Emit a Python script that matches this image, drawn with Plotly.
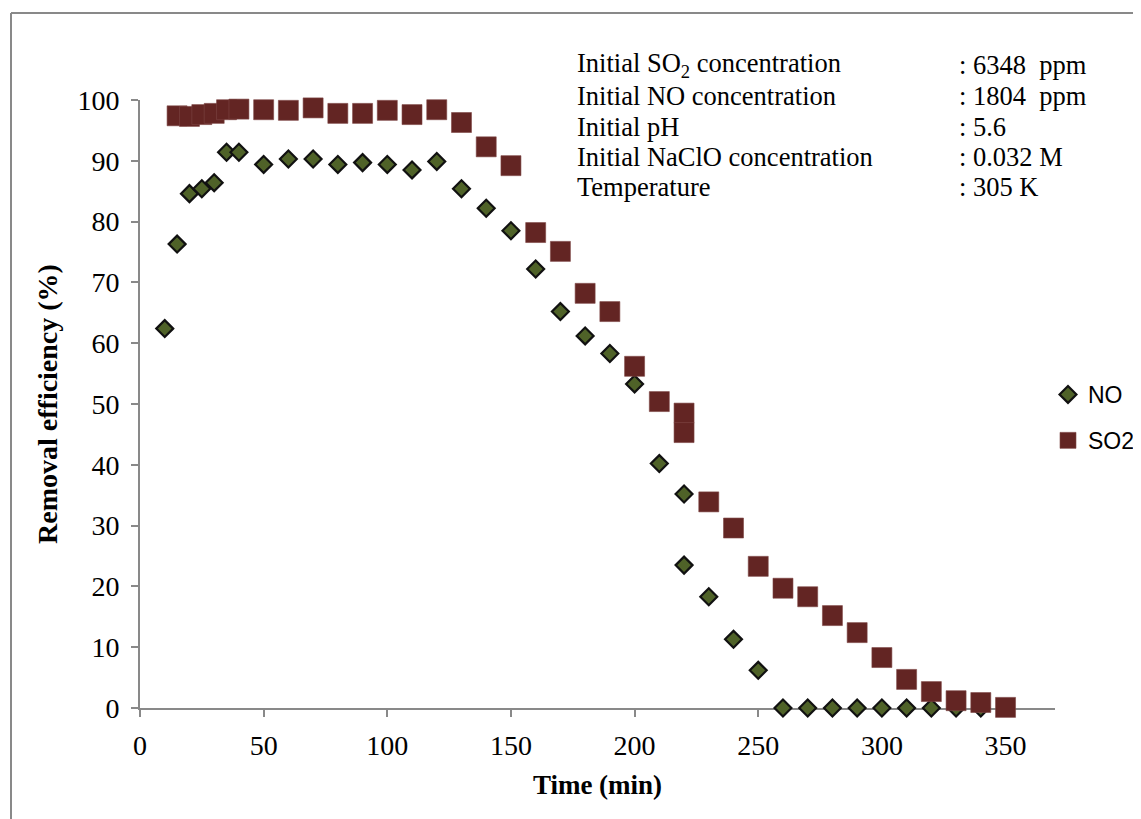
import plotly.graph_objects as go

# ---- data ----
no_time = [10, 15, 20, 25, 30, 35, 40, 50, 60, 70, 80, 90, 100, 110, 120, 130, 140, 150,
           160, 170, 180, 190, 200, 210, 220, 220, 230, 240, 250, 260, 270, 280, 290,
           300, 310, 320, 330, 340]
no_eff = [62.4, 76.3, 84.6, 85.4, 86.4, 91.4, 91.4, 89.4, 90.3, 90.3, 89.4, 89.7, 89.4,
          88.5, 89.9, 85.4, 82.2, 78.5, 72.2, 65.2, 61.2, 58.3, 53.3, 40.2, 35.2, 23.5,
          18.3, 11.3, 6.2, 0, 0, 0, 0, 0, 0, 0, 0, 0]

so2_time = [15, 20, 25, 30, 35, 40, 50, 60, 70, 80, 90, 100, 110, 120, 130, 140, 150,
            160, 170, 180, 190, 200, 210, 220, 220, 230, 240, 250, 260, 270, 280, 290,
            300, 310, 320, 330, 340, 350]
so2_eff = [97.4, 97.3, 97.6, 97.8, 98.4, 98.5, 98.4, 98.3, 98.7, 97.8, 97.8, 98.3, 97.6,
           98.4, 96.3, 92.3, 89.2, 78.2, 75.1, 68.2, 65.2, 56.2, 50.4, 48.5, 45.3, 33.9,
           29.6, 23.3, 19.7, 18.3, 15.2, 12.4, 8.3, 4.7, 2.7, 1.2, 0.9, 0.1]

x_ticks = [0, 50, 100, 150, 200, 250, 300, 350]
y_ticks = [0, 10, 20, 30, 40, 50, 60, 70, 80, 90, 100]

cond_labels = ["Initial SO<sub>2</sub> concentration", "Initial NO concentration",
               "Initial pH", "Initial NaClO concentration", "Temperature"]
cond_values = [": 6348  ppm", ": 1804  ppm", ": 5.6", ": 0.032 M", ": 305 K"]

# ---- layout geometry (screen pixels; page body has an 8px margin) ----
PAGE_W, PAGE_H, OFF = 1141, 819, 8
L, R, T, B = 140, 1055, 100, 708
W, H = PAGE_W - OFF, PAGE_H - OFF


def px_x(p):
    return (p - L) / (R - L)


def px_y(p):
    return (B - p) / (B - T)


serif = "Liberation Serif"
axis_col = "#898989"

fig = go.Figure()
fig.add_trace(go.Scatter(
    x=no_time, y=no_eff, mode="markers", name="NO", legendgroup="a",
    marker=dict(symbol="diamond", size=13, color="#4F6228",
                line=dict(color="#111111", width=2.2)),
    cliponaxis=False))
fig.add_trace(go.Scatter(
    x=so2_time, y=so2_eff, mode="markers", name="SO2", legendgroup="b",
    marker=dict(symbol="square", size=20, color="#632523",
                line=dict(color="#7d4644", width=0.6)),
    cliponaxis=False))

line_y = [65, 96, 127, 157, 187]
for lab, val, yy in zip(cond_labels, cond_values, line_y):
    fig.add_annotation(text=lab, xref="paper", yref="paper", x=px_x(575), y=px_y(yy),
                       xanchor="left", yanchor="middle", showarrow=False,
                       font=dict(family=serif, size=26.5, color="black"))
    fig.add_annotation(text=val, xref="paper", yref="paper", x=px_x(957), y=px_y(yy),
                       xanchor="left", yanchor="middle", showarrow=False,
                       font=dict(family=serif, size=26.5, color="black"))

# outer chart border (left and top edges visible)
fig.add_shape(type="line", xref="paper", yref="paper", x0=px_x(11), x1=px_x(1200),
              y0=px_y(13), y1=px_y(13), line=dict(color=axis_col, width=2))
fig.add_shape(type="line", xref="paper", yref="paper", x0=px_x(11), x1=px_x(11),
              y0=px_y(13), y1=px_y(900), line=dict(color=axis_col, width=2))

fig.update_layout(
    width=W, height=H,
    margin=dict(l=L - OFF, r=PAGE_W - R, t=T - OFF, b=PAGE_H - B, autoexpand=False),
    plot_bgcolor="white", paper_bgcolor="white",
    showlegend=True,
    legend=dict(x=px_x(1048), y=px_y(373), xanchor="left", yanchor="top",
                font=dict(family="Liberation Sans", size=23, color="black"),
                traceorder="grouped", tracegroupgap=13, itemwidth=30,
                bgcolor="rgba(0,0,0,0)"),
    xaxis=dict(range=[0, 370], tickvals=x_ticks, ticks="outside", ticklen=7,
               tickcolor=axis_col, tickwidth=2, showline=True, linecolor=axis_col,
               linewidth=2, showgrid=False, zeroline=False, layer="below traces",
               ticklabelstandoff=4,
               tickfont=dict(family=serif, size=28, color="black"),
               title=dict(text="Time (min)", standoff=16,
                          font=dict(family=serif, size=27, color="black", weight="bold"))),
    yaxis=dict(range=[0, 100], tickvals=y_ticks, ticks="outside", ticklen=7,
               tickcolor=axis_col, tickwidth=2, showline=True, linecolor=axis_col,
               linewidth=2, showgrid=False, zeroline=False, layer="below traces",
               ticklabelstandoff=6,
               tickfont=dict(family=serif, size=28, color="black"),
               title=dict(text="Removal efficiency (%)", standoff=12,
                          font=dict(family=serif, size=28, color="black", weight="bold"))),
)

fig.write_html("out.html")
